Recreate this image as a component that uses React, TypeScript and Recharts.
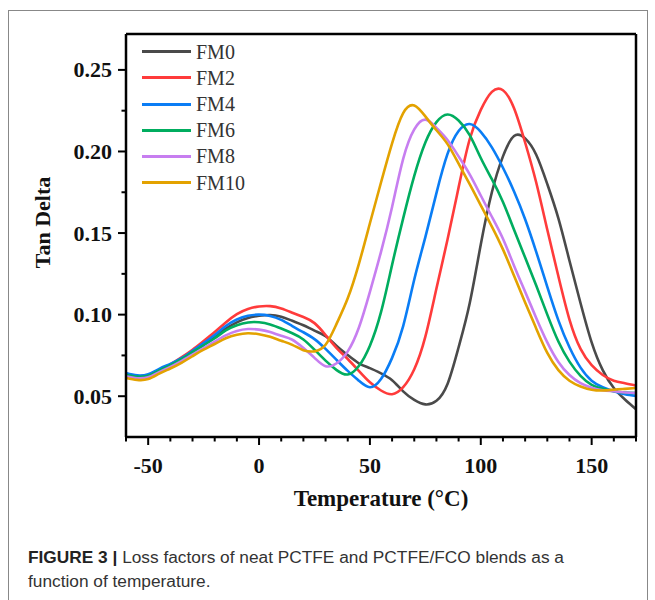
import React from "react";
import { LineChart, Line, XAxis, YAxis, Legend } from "recharts";

// temperature grid (°C)
const temps = [
  -60, -55, -50, -45, -40, -35, -30, -25, -20, -15, -10, -5, 0, 5, 10, 15, 20, 25, 30, 35, 40, 45, 50, 55,
  60, 65, 70, 75, 80, 85, 90, 95, 100, 105, 110, 115, 120, 125, 130, 135, 140, 145, 150, 155, 160, 165, 170,
];

const fm0 = [
  0.063, 0.0622, 0.0628, 0.0655, 0.069, 0.073, 0.0775, 0.082, 0.087, 0.0915, 0.0953, 0.098, 0.0993, 0.0998,
  0.0987, 0.0962, 0.0935, 0.0902, 0.0868, 0.0808, 0.0752, 0.0702, 0.0672, 0.064, 0.0598, 0.053, 0.0477, 0.045,
  0.0472, 0.0575, 0.08, 0.107, 0.143, 0.175, 0.197, 0.2095, 0.208, 0.198, 0.18, 0.159, 0.133, 0.107, 0.083,
  0.066, 0.055, 0.048, 0.042,
];
const fm2 = [
  0.0628, 0.0622, 0.0628, 0.0658, 0.0695, 0.0738, 0.0785, 0.0838, 0.0893, 0.0952, 0.1003, 0.1035, 0.105, 0.1052,
  0.1038, 0.1012, 0.0985, 0.0948, 0.0875, 0.0795, 0.0728, 0.0655, 0.0585, 0.0535, 0.0512, 0.0555, 0.0665, 0.0865,
  0.116, 0.146, 0.178, 0.2075, 0.2255, 0.2365, 0.2375, 0.2265, 0.2055, 0.181, 0.152, 0.1235, 0.097, 0.079, 0.069,
  0.063, 0.0595, 0.058, 0.0565,
];
const fm4 = [
  0.0643, 0.0628, 0.0635, 0.0668, 0.0698, 0.0733, 0.0778, 0.0825, 0.0875, 0.093, 0.097, 0.0993, 0.1, 0.0992,
  0.0968, 0.093, 0.0892, 0.085, 0.079, 0.0722, 0.0655, 0.0595, 0.0555, 0.0605, 0.0735, 0.093, 0.1215, 0.1475,
  0.1745, 0.1985, 0.2125, 0.2168, 0.212, 0.2025, 0.19, 0.1755, 0.1585, 0.1385, 0.117, 0.0965, 0.08, 0.0675,
  0.0595, 0.0555, 0.053, 0.0512, 0.0502,
];
const fm6 = [
  0.0632, 0.062, 0.0626, 0.0658, 0.069, 0.0727, 0.077, 0.0812, 0.0855, 0.0903, 0.0935, 0.0952, 0.0953, 0.094,
  0.0915, 0.0886, 0.0848, 0.0785, 0.0718, 0.066, 0.0633, 0.0685, 0.081, 0.1015, 0.1305, 0.159, 0.185, 0.2055,
  0.218, 0.2227, 0.219, 0.21, 0.196, 0.183, 0.169, 0.152, 0.135, 0.1178, 0.1, 0.0835, 0.0712, 0.0625, 0.057,
  0.0545, 0.053, 0.0522, 0.052,
];
const fm8 = [
  0.0622, 0.061, 0.0616, 0.0648, 0.068, 0.0715, 0.0755, 0.0795, 0.0835, 0.0873, 0.09, 0.0912, 0.0908, 0.0893,
  0.087, 0.0846, 0.0795, 0.0735, 0.0684, 0.0702, 0.0775, 0.092, 0.114, 0.1385, 0.166, 0.1955, 0.2135, 0.2195,
  0.2145, 0.207, 0.197, 0.186, 0.173, 0.16, 0.1465, 0.13, 0.114, 0.098, 0.083, 0.071, 0.063, 0.058, 0.0552,
  0.0537, 0.053, 0.0523, 0.052,
];
const fm10 = [
  0.0612, 0.06, 0.0605, 0.0638, 0.067, 0.0705, 0.0745, 0.0785, 0.082, 0.0855, 0.0877, 0.0886, 0.088, 0.0864,
  0.084, 0.0815, 0.0782, 0.0775, 0.0815, 0.0945, 0.11, 0.131, 0.156, 0.181, 0.205, 0.2235, 0.2282, 0.2215, 0.213,
  0.2045, 0.1925, 0.18, 0.167, 0.154, 0.14, 0.1238, 0.1075, 0.0915, 0.0765, 0.066, 0.0595, 0.056, 0.054,
  0.0535, 0.054, 0.0545, 0.055,
];

const seriesNames = ["FM0", "FM2", "FM4", "FM6", "FM8", "FM10"];
const seriesColors = ["#4a4a4a", "#ff3b3b", "#0a7df5", "#00ad5f", "#c77ef0", "#e3a200"];
const seriesValues = [fm0, fm2, fm4, fm6, fm8, fm10];

const xTicks = [-60, -50, -40, -30, -20, -10, 0, 10, 20, 30, 40, 50, 60, 70, 80, 90, 100, 110, 120, 130, 140, 150, 160, 170];
const yTicks = [0.05, 0.075, 0.1, 0.125, 0.15, 0.175, 0.2, 0.225, 0.25];

const data = temps.map((T, i) => {
  const row: Record<string, number> = { T };
  seriesNames.forEach((n, k) => (row[n] = seriesValues[k][i]));
  return row;
});

const serif = '"Liberation Serif", "Times New Roman", serif';

const XTick = (props: any) => {
  const { x, y, payload } = props;
  const major = payload.value % 50 === 0;
  return (
    <g>
      <line x1={x} x2={x} y1={y} y2={y + (major ? 8 : 4.5)} stroke="#000" strokeWidth={2} />
      {major && (
        <text x={x} y={y + 35.5} textAnchor="middle" fontFamily={serif} fontWeight="bold" fontSize={22} fill="#111">
          {payload.value}
        </text>
      )}
    </g>
  );
};

const YTick = (props: any) => {
  const { x, y, payload } = props;
  const major = Math.round(payload.value * 1000) % 50 === 0;
  return (
    <g>
      <line x1={x} x2={x - (major ? 8 : 4.5)} y1={y} y2={y} stroke="#000" strokeWidth={2} />
      {major && (
        <text x={x - 14} y={y + 7.5} textAnchor="end" fontFamily={serif} fontWeight="bold" fontSize={22} fill="#111">
          {payload.value.toFixed(2)}
        </text>
      )}
    </g>
  );
};

const LegendBox = (props: any) => {
  const payload = [...(props.payload || [])].sort(
    (a: any, b: any) => seriesNames.indexOf(a.value) - seriesNames.indexOf(b.value)
  );
  return (
    <div>
      {payload.map((p: any) => (
        <div key={p.value} style={{ display: "flex", alignItems: "center", height: 26.2 }}>
          <span style={{ display: "inline-block", width: 49, height: 3, background: p.color }} />
          <span style={{ marginLeft: 5, fontFamily: serif, fontSize: 20, color: "#333", lineHeight: "20px" }}>
            {p.value}
          </span>
        </div>
      ))}
    </div>
  );
};

export default function App() {
  return (
    <div style={{ position: "absolute", left: 0, top: 0, width: 655, height: 600, background: "#fff" }}>
      <div
        style={{
          position: "absolute",
          left: 8,
          top: 10,
          width: 638,
          height: 589,
          borderLeft: "1px solid #888",
          borderTop: "1px solid #888",
          borderRight: "1px solid #888",
        }}
      />
      <LineChart
        width={655}
        height={540}
        data={data}
        margin={{ top: 33, right: 18, bottom: 43, left: 66 }}
        style={{ position: "absolute", left: 0, top: 0 }}
      >
        <XAxis
          dataKey="T"
          type="number"
          domain={[-60, 170]}
          ticks={xTicks}
          interval={0}
          height={60}
          tickSize={0}
          tickMargin={0}
          tickLine={false}
          tick={<XTick />}
          axisLine={{ stroke: "#000", strokeWidth: 2.5 }}
          allowDataOverflow
          label={{
            content: () => (
              <text x={381} y={506} textAnchor="middle" fontFamily={serif} fontWeight="bold" fontSize={23} fill="#111">
                Temperature (°C)
              </text>
            ),
          }}
        />
        <XAxis
          xAxisId="top"
          orientation="top"
          dataKey="T"
          type="number"
          domain={[-60, 170]}
          height={1}
          tick={false}
          tickLine={false}
          axisLine={{ stroke: "#000", strokeWidth: 2.5 }}
        />
        <YAxis
          type="number"
          domain={[0.025, 0.272]}
          ticks={yTicks}
          interval={0}
          width={60}
          tickSize={0}
          tickMargin={0}
          tickLine={false}
          tick={<YTick />}
          axisLine={{ stroke: "#000", strokeWidth: 2.5 }}
          allowDataOverflow
          label={{
            content: () => (
              <text
                x={50}
                y={222.5}
                transform="rotate(-90 50 222.5)"
                textAnchor="middle"
                fontFamily={serif}
                fontWeight="bold"
                fontSize={22}
                fill="#111"
              >
                Tan Delta
              </text>
            ),
          }}
        />
        <YAxis
          yAxisId="right"
          orientation="right"
          type="number"
          domain={[0.025, 0.272]}
          width={1}
          tick={false}
          tickLine={false}
          axisLine={{ stroke: "#000", strokeWidth: 2.5 }}
        />
        <Legend
          layout="vertical"
          align="center"
          verticalAlign="middle"
          content={<LegendBox />}
          wrapperStyle={{ left: 142, top: 38.6, width: 130 }}
        />
        {seriesNames.map((n, k) => (
          <Line
            key={n}
            dataKey={n}
            name={n}
            type="natural"
            stroke={seriesColors[k]}
            strokeWidth={2.6}
            dot={false}
            isAnimationActive={false}
          />
        ))}
      </LineChart>
      <div
        style={{
          position: "absolute",
          left: 28,
          top: 545,
          width: 610,
          fontFamily: '"Liberation Sans", Arial, sans-serif',
          fontSize: 17.3,
          lineHeight: "24px",
          color: "#333",
        }}
      >
        <span style={{ fontWeight: "bold", color: "#222" }}>FIGURE 3 | </span>Loss factors of neat PCTFE and PCTFE/FCO blends as a
        <br />
        function of temperature.
      </div>
    </div>
  );
}
